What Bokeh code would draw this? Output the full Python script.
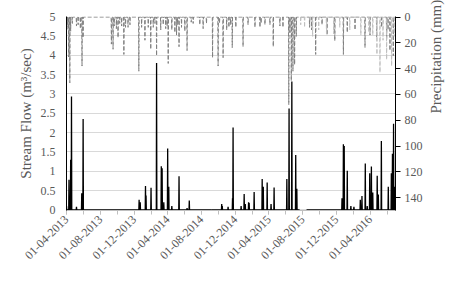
import numpy as np
import pandas as pd
from bokeh.plotting import figure
from bokeh.models import (Range1d, LinearAxis, FixedTicker, DatetimeTickFormatter,
                          ColumnDataSource, CustomJSTickFormatter)
from bokeh.embed import file_html
from bokeh.resources import INLINE

# ---------------- data ----------------
x_start = "2013-04-01"
x_end = "2016-07-01"

flow_dates = ["2013-04-01", "2013-04-10", "2013-04-16", "2013-04-19", "2013-05-07", "2013-05-26",
              "2013-05-31", "2013-12-19", "2013-12-23", "2014-01-11", "2014-01-13", "2014-01-31",
              "2014-02-20", "2014-03-09", "2014-03-12", "2014-03-18", "2014-04-01", "2014-04-05",
              "2014-04-16", "2014-05-12", "2014-06-10", "2014-06-18", "2014-09-06", "2014-10-13",
              "2014-10-15", "2014-11-05", "2014-11-21", "2014-11-23", "2014-12-22", "2015-01-02",
              "2015-01-06", "2015-01-18", "2015-01-20", "2015-02-07", "2015-03-08", "2015-03-12",
              "2015-03-26", "2015-04-09", "2015-04-20", "2015-06-05", "2015-06-13", "2015-06-23",
              "2015-07-07", "2015-07-11", "2015-12-21", "2015-12-26", "2015-12-29", "2016-01-09",
              "2016-01-22", "2016-02-02", "2016-02-25", "2016-03-02", "2016-03-14", "2016-03-21",
              "2016-03-30", "2016-04-05", "2016-04-10", "2016-04-26", "2016-04-30", "2016-05-11",
              "2016-06-05", "2016-06-16", "2016-06-20", "2016-06-24", "2016-06-27"]
flow_vals = [0.10, 0.78, 1.30, 2.93, 0.08, 0.43,
             2.35, 0.26, 0.20, 0.62, 0.37, 0.57,
             3.80, 1.13, 1.08, 0.20, 1.59, 0.60,
             0.10, 0.87, 0.05, 0.24, -0.03, 0.15,
             0.10, 0.08, 0.30, 2.13, 0.10, 0.41,
             0.15, 0.20, 0.18, 0.46, 0.80, 0.60,
             0.71, 0.15, 0.58, 0.80, 2.62, 3.32,
             1.42, 0.55, 0.30, 1.70, 1.65, 1.01,
             0.10, 0.08, 0.26, 0.36, 1.20, 0.10,
             0.95, 1.12, 0.45, 0.88, 0.40, 1.78,
             0.60, 0.95, 1.45, 2.23, 0.60]
flow_gap = ["2015-07-22", "2015-08-14"]   # missing records

rain1_dates = ["2013-04-03", "2013-04-09", "2013-04-13", "2013-04-16", "2013-05-07", "2013-05-13",
               "2013-05-21", "2013-05-27", "2013-05-31", "2013-09-10", "2013-09-16", "2013-09-28",
               "2013-10-04", "2013-10-17", "2013-10-25", "2013-10-31", "2013-11-09", "2013-11-16",
               "2013-12-18", "2013-12-28", "2014-01-09", "2014-01-21", "2014-01-30", "2014-02-08",
               "2014-02-20", "2014-03-07", "2014-03-16", "2014-03-25", "2014-04-03", "2014-04-16",
               "2014-04-27", "2014-05-03", "2014-05-12", "2014-05-21", "2014-06-02", "2014-06-10",
               "2014-07-02", "2014-07-26", "2014-08-07", "2014-08-19", "2014-09-10", "2014-09-30",
               "2014-10-18", "2014-10-31", "2014-11-08", "2014-11-20", "2014-12-03", "2014-12-29",
               "2015-01-16", "2015-02-10", "2015-02-28", "2015-03-18", "2015-04-17", "2015-05-11",
               "2015-05-22", "2015-06-12", "2015-06-21", "2015-06-27", "2015-07-03", "2015-07-09",
               "2015-08-26", "2015-09-02", "2015-09-17", "2015-10-28", "2015-11-25", "2015-12-26",
               "2016-01-09", "2016-02-06", "2016-03-13", "2016-03-31", "2016-04-24", "2016-05-30",
               "2016-06-11", "2016-06-23",
               "2013-04-06", "2013-04-22", "2013-09-20", "2013-10-10", "2014-02-14", "2014-03-30",
               "2014-05-07", "2014-06-25", "2014-10-05", "2014-11-14", "2015-03-04", "2015-04-05",
               "2015-06-16", "2015-10-10", "2016-05-12", "2016-06-04"]
rain1_vals = [9.5, 31, 51, 11, 7, 6,
              9, 38, 16, 21, 25, 9,
              16, 7, 29, 8, 8, 6,
              42, 8, 18, 8, 25, 8,
              30, 10, 6, 9, 36, 10,
              12, 14, 23, 8, 11, 26,
              5, 6, 9, 5, 31.5, 38,
              31.5, 10, 8, 23.7, 8, 23,
              6, 8, 8, 6, 23, 7,
              8, 68, 49.5, 42, 37, 15,
              8, 10, 29, 14, 18.5, 29,
              12, 10, 23.7, 14, 16, 17,
              26, 30,
              6, 5, 7, 5, 5, 7,
              6, 4, 5, 6, 5, 6,
              12, 6, 8, 10]

rain2_dates = ["2015-07-25", "2015-08-08", "2015-09-06", "2015-09-28", "2015-10-26", "2015-11-21",
               "2015-12-13", "2016-01-18", "2016-02-27", "2016-03-27", "2016-04-10", "2016-04-25",
               "2016-05-06", "2016-05-17", "2016-05-30", "2016-06-17", "2016-06-26"]
rain2_vals = [6, 8, 15, 10, 13, 13,
              8, 10, 14, 12, 14, 29,
              43, 18, 33, 38, 15]

month_ticks = ["2013-04-01", "2013-08-01", "2013-12-01", "2014-04-01", "2014-08-01",
               "2014-12-01", "2015-04-01", "2015-08-01", "2015-12-01", "2016-04-01"]
minor_month_ticks = ["2013-06-01", "2013-10-01", "2014-02-01", "2014-06-01", "2014-10-01",
                     "2015-02-01", "2015-06-01", "2015-10-01", "2016-02-01", "2016-06-01"]
flow_ticks = [0, 0.5, 1, 1.5, 2, 2.5, 3, 3.5, 4, 4.5, 5]
rain_ticks = [0, 20, 40, 60, 80, 100, 120, 140]


# ------------- build daily spike series -------------
def spike_series(dates, vals, gap=None):
    one = pd.Timedelta(days=1)
    d = {}
    for s, v in zip(dates, vals):
        d[pd.Timestamp(s)] = float(v)
    for t in list(d):
        for n in (t - one, t + one):
            d.setdefault(n, 0.0)
    d.setdefault(pd.Timestamp(x_start), 0.0)
    d.setdefault(pd.Timestamp(x_end), 0.0)
    if gap:
        g0, g1 = pd.Timestamp(gap[0]), pd.Timestamp(gap[1])
        d = {k: v for k, v in d.items() if not (g0 <= k <= g1)}
        d[g0 - one] = 0.0
        d[g0] = np.nan
        d[g1 + one] = 0.0
    items = sorted(d.items())
    return [k for k, _ in items], [v for _, v in items]


fx, fy = spike_series(flow_dates, flow_vals, flow_gap)
r1x, r1y = spike_series(rain1_dates, rain1_vals)
r2x, r2y = spike_series(rain2_dates, rain2_vals)
r2x = [t for t in r2x if t >= pd.Timestamp("2015-07-20")]
r2y = r2y[len(r2y) - len(r2x):]

FONT = "Liberation Serif"
TXT = "#595959"

p = figure(width=465, height=281, x_axis_type="datetime",
           x_range=Range1d(pd.Timestamp(x_start), pd.Timestamp(x_end)),
           y_range=Range1d(-0.015, 5),
           output_backend="svg", toolbar_location=None,
           min_border_left=66, min_border_right=70, min_border_top=16, min_border_bottom=71)
p.outline_line_color = None
p.background_fill_color = "white"
p.border_fill_color = "white"

p.extra_y_ranges = {"rain": Range1d(start=150, end=-0.4)}

# grid
p.xgrid.visible = False
p.ygrid.grid_line_color = "#d9d9d9"
p.ygrid.grid_line_width = 1

# left axis
ya = p.yaxis[0]
ya.ticker = FixedTicker(ticks=flow_ticks)
ya.formatter = CustomJSTickFormatter(code="return tick.toString();")
ya.axis_label = "Stream Flow (m³/sec)"
ya.axis_line_color = "black"
ya.major_tick_out = 0
ya.major_tick_in = 0
ya.minor_tick_line_color = None
ya.major_label_standoff = 11
ya.axis_label_standoff = 4
ya.major_label_text_font = FONT
ya.major_label_text_font_size = "12px"
ya.major_label_text_color = TXT
ya.axis_label_text_font = FONT
ya.axis_label_text_font_size = "15px"
ya.axis_label_text_font_style = "normal"
ya.axis_label_text_color = TXT

# right axis
ra = LinearAxis(y_range_name="rain", ticker=FixedTicker(ticks=rain_ticks),
                axis_label="Precipitation (mm)")
try:
    ra.axis_label_orientation = np.pi / 2
except Exception:
    pass
ra.axis_line_color = "black"
ra.major_tick_line_color = "black"
ra.major_tick_out = 5
ra.major_tick_in = 0
ra.minor_tick_line_color = None
ra.major_label_standoff = 4
ra.axis_label_standoff = 10
ra.major_label_text_font = FONT
ra.major_label_text_font_size = "12px"
ra.major_label_text_color = TXT
ra.axis_label_text_font = FONT
ra.axis_label_text_font_size = "15px"
ra.axis_label_text_font_style = "normal"
ra.axis_label_text_color = TXT
p.add_layout(ra, "right")

# bottom axis
ms = lambda s: pd.Timestamp(s).value // 10**6
xa = p.xaxis[0]
xa.ticker = FixedTicker(ticks=[ms(s) for s in month_ticks],
                        minor_ticks=[ms(s) for s in minor_month_ticks + month_ticks])
fmt = "%d-%m-%Y"
xa.formatter = DatetimeTickFormatter(days=fmt, months=fmt, years=fmt, hours=fmt,
                                     hourmin=fmt, minutes=fmt, minsec=fmt, seconds=fmt,
                                     milliseconds=fmt, microseconds=fmt)
xa.major_label_orientation = np.pi / 4
xa.axis_line_color = "#bfbfbf"
xa.major_tick_line_color = "#bfbfbf"
xa.minor_tick_line_color = "#bfbfbf"
xa.major_tick_out = 4
xa.major_tick_in = 0
xa.minor_tick_out = 4
xa.minor_tick_in = 0
xa.major_label_standoff = 3
xa.major_label_text_font = FONT
xa.major_label_text_font_size = "12px"
xa.major_label_text_color = TXT

# series
p.line(x="x", y="y", source=ColumnDataSource(dict(x=r1x, y=r1y)), y_range_name="rain",
       line_color="#7f7f7f", line_width=1, line_dash="4 2")
p.line(x="x", y="y", source=ColumnDataSource(dict(x=r2x, y=r2y)), y_range_name="rain",
       line_color="#bfbfbf", line_width=1, line_dash="4 2")
p.line(x="x", y="y", source=ColumnDataSource(dict(x=fx, y=fy)),
       line_color="black", line_width=1.3)

open("out.html", "w").write(file_html(p, INLINE))
